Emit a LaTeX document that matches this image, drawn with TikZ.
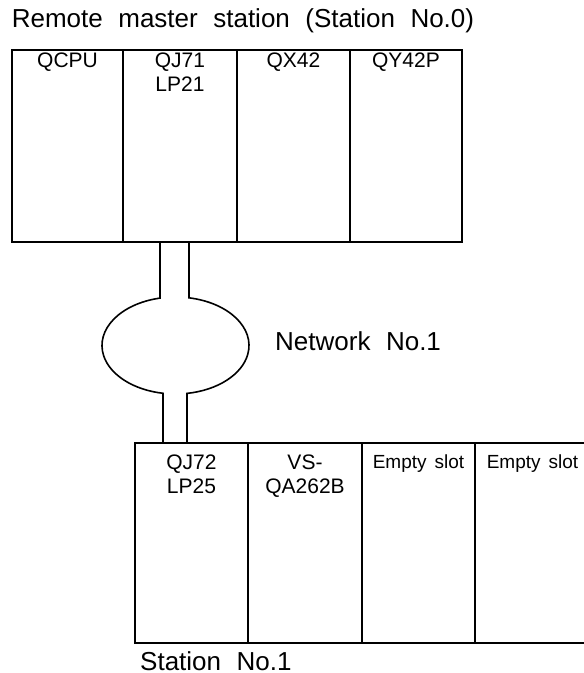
\documentclass[tikz,border=0pt]{standalone}
\usepackage{fontspec}
\setmainfont{Liberation Sans}
\usetikzlibrary{calc}
\begin{document}
\begin{tikzpicture}[x=1pt,y=1pt,
  slot/.style={draw, line width=1.6pt, inner sep=0pt, outer sep=0pt, anchor=north west},
  topslot/.style={slot, minimum height=192pt},
  botslot/.style={slot, minimum height=200pt},
  lab/.style={inner sep=0pt, anchor=north, align=center, font={\fontsize{21}{24}\selectfont}},
  small/.style={inner sep=0pt, anchor=north, align=center, font={\fontsize{19}{22}\selectfont\spaceskip=8pt}},
  big/.style={inner sep=0pt, font={\fontsize{26}{30}\selectfont\spaceskip=15.5pt}},
  wire/.style={line width=1.6pt}]
\useasboundingbox (0,0) rectangle (584,673);
\clip (0,0) rectangle (584,673);
% title
\node[big, anchor=base] (title) at (243,645) {Remote master station (Station No.0)};
% master station slots
\node[topslot, minimum width=111pt] (s1) at (12,623) {};
\node[topslot, minimum width=114pt] (s2) at (123,623) {};
\node[topslot, minimum width=113pt] (s3) at (237,623) {};
\node[topslot, minimum width=112pt] (s4) at (350,623) {};
\node[lab] (t1) at ($(s1.north)+(0,-3)$) {QCPU};
\node[lab] (t2) at ($(s2.north)+(0,-3)$) {QJ71\\LP21};
\node[lab] (t3) at ($(s3.north)+(0,-3)$) {QX42};
\node[lab] (t4) at ($(s4.north)+(0,-3)$) {QY42P};
% station 1 slots
\node[botslot, minimum width=113pt] (b1) at (135,230) {};
\node[botslot, minimum width=114pt] (b2) at (248,230) {};
\node[botslot, minimum width=113pt] (b3) at (362,230) {};
\node[botslot, minimum width=115pt] (b4) at (475,230) {};
\node[lab] (u1) at ($(b1.north)+(0,-12)$) {QJ72\\LP25};
\node[lab] (u2) at ($(b2.north)+(0,-12)$) {VS-\\QA262B};
\node[small] (u3) at ($(b3.north)+(0,-12)$) {Empty slot};
\node[small] (u4) at ($(b4.north)+(0,-12)$) {Empty slot};
\node[big, anchor=base west] (st1) at (140,2.5) {Station No.1};
% network
\coordinate (netc) at (175.5,327.5);
\draw[wire] ($(s2.south west)+(37,0)$) -- ($(netc)+(102.17:73.5 and 48.5)$)
  arc[start angle=102.17, end angle=260.21, x radius=73.5, y radius=48.5]
  -- ($(b1.north west)+(28,0)$);
\draw[wire] ($(s2.south west)+(66,0)$) -- ($(netc)+(79.42:73.5 and 48.5)$)
  arc[start angle=79.42, end angle=-81, x radius=73.5, y radius=48.5]
  -- ($(b1.north west)+(52,0)$);
\node[big, anchor=base west] (net) at (275,322) {Network No.1};
\end{tikzpicture}
\end{document}
